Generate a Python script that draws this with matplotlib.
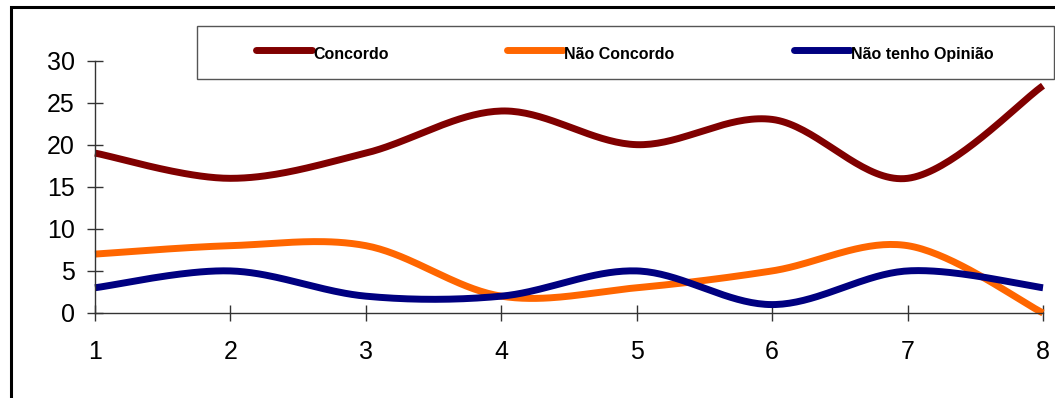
import matplotlib.pyplot as plt
import numpy as np
from matplotlib.lines import Line2D
from matplotlib.patches import Rectangle

plt.rcParams['font.family'] = ['Liberation Sans', 'DejaVu Sans']

perguntas = [1, 2, 3, 4, 5, 6, 7, 8]
concordo = [19, 16, 19, 24, 20, 23, 16, 27]
nao_concordo = [7, 8, 8, 2, 3, 5, 8, 0]
sem_opiniao = [3, 5, 2, 2, 5, 1, 5, 3]

series = [
    ('Concordo', concordo, '#800000'),
    ('Não Concordo', nao_concordo, '#FF6600'),
    ('Não tenho Opinião', sem_opiniao, '#000080'),
]


def suavizar(x, y, n=40):
    # curva de Bezier tipo Catmull-Rom (linha suavizada)
    x = np.asarray(x, float)
    y = np.asarray(y, float)
    p = np.column_stack([x, y])
    p = np.vstack([p[0], p, p[-1]])
    out = []
    t = np.linspace(0, 1, n)[:, None]
    for i in range(1, len(p) - 2):
        p0, p1, p2, p3 = p[i - 1], p[i], p[i + 1], p[i + 2]
        c1 = p1 + (p2 - p0) / 6
        c2 = p2 - (p3 - p1) / 6
        seg = ((1 - t) ** 3) * p1 + 3 * ((1 - t) ** 2) * t * c1 \
            + 3 * (1 - t) * t ** 2 * c2 + t ** 3 * p2
        out.append(seg if i == 1 else seg[1:])
    out = np.vstack(out)
    return out[:, 0], out[:, 1]


W, H = 1055, 398
fig = plt.figure(figsize=(W / 100, H / 100), dpi=100)
ax = fig.add_axes([95 / W, (H - 313) / H, (1043 - 95) / W, (313 - 60.5) / H])

for nome, vals, cor in series:
    xs, ys = suavizar(perguntas, vals)
    ax.plot(xs, ys, color=cor, lw=5, solid_capstyle='butt', clip_on=False)

ax.set_xlim(1, 8)
ax.set_ylim(0, 30)
ax.set_xticks(perguntas)
ax.set_yticks(range(0, 31, 5))
for s in ['top', 'right']:
    ax.spines[s].set_visible(False)
for s in ['left', 'bottom']:
    ax.spines[s].set_color('#333333')
    ax.spines[s].set_linewidth(1)
ax.tick_params(axis='both', direction='inout', length=11, width=1,
               color='#333333', labelsize=18)
ax.tick_params(axis='y', pad=9)
ax.tick_params(axis='x', pad=14)

# moldura do grafico
fig.add_artist(Rectangle((11 / W, -0.2), 1.5, (H - 7) / H + 0.2,
                         transform=fig.transFigure, fill=False,
                         edgecolor='black', lw=2.2, clip_on=False))

# caixa da legenda
fig.add_artist(Rectangle((197 / W, (H - 79) / H), (1054 - 197) / W, 53 / H,
                         transform=fig.transFigure, fill=False,
                         edgecolor='#555555', lw=1))
ly = (H - 50) / H
for (nome, vals, cor), x0 in zip(series, [256, 507, 794]):
    fig.add_artist(Line2D([x0 / W, (x0 + 56) / W], [ly, ly], color=cor,
                          lw=5, solid_capstyle='round',
                          transform=fig.transFigure))
    fig.text((x0 + 57) / W, (H - 59) / H, nome, fontsize=11.5,
             fontweight='bold', va='baseline', ha='left')

fig.savefig('out.png', dpi=100)
